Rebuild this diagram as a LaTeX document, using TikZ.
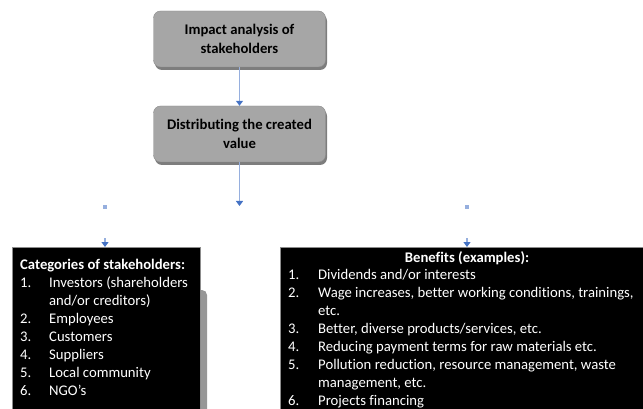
\documentclass[tikz,border=0pt]{standalone}
\usepackage{fontspec}
\setmainfont{Carlito}[Ligatures=NoCommon]
\usetikzlibrary{arrows.meta}
\definecolor{boxgray}{RGB}{166,166,166}
\definecolor{boxline}{RGB}{140,140,140}
\definecolor{shadowgray}{RGB}{125,125,125}
\definecolor{linkblue}{RGB}{150,175,222}
\definecolor{tipblue}{RGB}{68,114,196}
\tikzset{
  graybox/.style={draw=boxline, fill=boxgray, rounded corners=7pt, minimum width=172pt, minimum height=56pt, font=\bfseries\fontsize{14.7}{19}\selectfont, align=center, text=black, inner sep=0pt},
  grayshadow/.style={fill=shadowgray, rounded corners=7pt, minimum width=172pt, minimum height=56pt, inner sep=0pt},
  blackbox/.style={fill=black, draw=boxline, line width=0.4pt, inner sep=0pt, anchor=north west},
  listtext/.style={text=white, font=\fontsize{14.7}{18}\selectfont, align=left, anchor=north west, inner sep=0pt},
  link/.style={draw=linkblue, line width=1.6pt, -{Triangle[width=7pt,length=5pt,fill=tipblue,color=tipblue]}, shorten >=0pt},
  tipdot/.style={fill=linkblue, minimum size=3.5pt, inner sep=0pt}
}
\newcommand{\itm}[1]{\makebox[29pt][l]{#1}}
\newcommand{\itr}[1]{\makebox[30pt][l]{#1}}
\begin{document}
\begin{tikzpicture}[x=1pt,y=-1pt]
\useasboundingbox (0,0) rectangle (643,409);
% top boxes
\node[grayshadow] (ishadow) at (241,42) {};
\node[graybox] (impact) at (239.5,39) {Impact analysis of\\stakeholders};
\node[grayshadow] (dshadow) at (241,137) {};
\node[graybox] (distrib) at (239.5,134) {Distributing the created\\value};
\draw[link] (impact.south) -- (distrib.north);
\coordinate (split) at (239.5,206);
\draw[link] (distrib.south) -- (split);
% dots
\node[tipdot] (ldot) at (105,207) {};
\node[tipdot] (rdot) at (467,207) {};
% left shadow
\fill[shadowgray!80] (193,290) [rounded corners=5pt] -- (207,290) -- (207,420) -- (193,420) -- cycle;
% black boxes
\node[blackbox, minimum width=188pt, minimum height=166pt] (cat) at (12,247) {};
\node[blackbox, minimum width=366pt, minimum height=166pt] (ben) at (280,247) {};
\coordinate (lhead) at (105,238);
\coordinate (rhead) at (467,238);
\draw[link] (lhead) -- (105,247);
\draw[link] (rhead) -- (467,247);
% texts
\node[listtext] (cattext) at (20,259) {\textbf{Categories of stakeholders:}\\
\itm{1.}Investors (shareholders\\
\itm{}and/or creditors)\\
\itm{2.}Employees\\
\itm{3.}Customers\\
\itm{4.}Suppliers\\
\itm{5.}Local community\\
\itm{6.}NGO’s};
\node[listtext, anchor=north] (bentitle) at (467,251) {\textbf{Benefits (examples):}};
\node[listtext] (bentext) at (288,269) {\itr{1.}Dividends and/or interests\\
\itr{2.}Wage increases, better working conditions, trainings,\\
\itr{}etc.\\
\itr{3.}Better, diverse products/services, etc.\\
\itr{4.}Reducing payment terms for raw materials etc.\\
\itr{5.}Pollution reduction, resource management, waste\\
\itr{}management, etc.\\
\itr{6.}Projects financing};
\end{tikzpicture}
\end{document}
